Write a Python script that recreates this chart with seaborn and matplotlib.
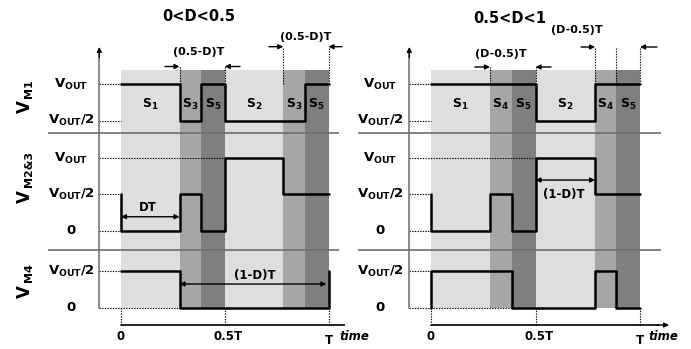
import numpy as np
import matplotlib
matplotlib.use('Agg')
import matplotlib.pyplot as plt
import seaborn as sns
import pandas as pd

sns.set_theme(style='white')
plt.rcParams['font.family'] = ['DejaVu Sans']
plt.rcParams['font.weight'] = 'bold'
plt.rcParams['text.color'] = 'black'
plt.rcParams['mathtext.fontset'] = 'dejavusans'
plt.rcParams['mathtext.default'] = 'bf'

# ---------------- data ----------------
titles = ['0<D<0.5', '0.5<D<1']

# switching-state boundaries (fraction of T) and the state in each interval
left_edges = [0, 0.282, 0.386, 0.5, 0.782, 0.885, 1.0]
left_states = ['S1', 'S3', 'S5', 'S2', 'S3', 'S5']
right_edges = [0, 0.282, 0.386, 0.5, 0.785, 0.885, 1.0]
right_states = ['S1', 'S4', 'S5', 'S2', 'S4', 'S5']

# waveforms as steps (time in T, level in Vout)
left_m1_t = [0, 0.282, 0.386, 0.5, 0.885, 1.0]
left_m1_v = [1, 0.5, 1, 0.5, 1, 1]
left_m23_t = [0, 0, 0.282, 0.386, 0.5, 0.782, 1.0]
left_m23_v = [0.5, 0, 0.5, 0, 1, 0.5, 0.5]
left_m4_t = [0, 0.282, 1.0, 1.0]
left_m4_v = [0.5, 0, 0, 0.5]

right_m1_t = [0, 0.5, 0.785, 1.0]
right_m1_v = [1, 0.5, 1, 1]
right_m23_t = [0, 0, 0.282, 0.386, 0.5, 0.785, 1.0]
right_m23_v = [0.5, 0, 0.5, 0, 1, 0.5, 0.5]
right_m4_t = [0, 0, 0.386, 0.785, 0.885, 1.0]
right_m4_v = [0, 0.5, 0, 0.5, 0, 0]

row_subs = ['M1', 'M2&3', 'M4']
row_levels = [[1, 0.5], [1, 0.5, 0], [0.5, 0]]
level_text = {1: '$V_{OUT}$', 0.5: '$V_{OUT}/2$', 0: '0'}
time_ticks = [0, 0.5, 1.0]
time_labels = ['0', '0.5T', 'T']

# where the dotted level guides stop (per row, per level)
left_guide_end = [[0, 0], [0.5, 0, 0], [0, 0.282]]
right_guide_end = [[0, 0], [0.5, 0, 0], [0, 0.386]]

# ---------------- layout ----------------
row_base = [2.08, 1.063, 0.0]
shade_top = 3.279
sep_y = [2.414, 0.796]
time_y = -0.239
state_colors = {'S1': '#dedede', 'S2': '#dedede', 'S3': '#a6a6a6',
                'S4': '#a6a6a6', 'S5': '#7f7f7f'}

fig = plt.figure(figsize=(6.91, 3.49), dpi=100)
ax_l = fig.add_axes([0, 0, 345 / 691, 1])
ax_r = fig.add_axes([345 / 691, 0, 346 / 691, 1])
ax_l.set_xlim(-0.5831, 1.0795)
ax_r.set_xlim(-0.4115, 1.244)

dot = (0, (1.2, 1.2))


def arrow(ax, x0, y0, x1, y1, style='-|>'):
    ax.annotate('', xy=(x1, y1), xytext=(x0, y0),
                arrowprops=dict(arrowstyle=style, color='black', lw=1.0,
                                mutation_scale=7, shrinkA=0, shrinkB=0))


def draw_panel(ax, edges, states, waves, guide_end, title, title_xy,
               yaxis_x, sep_x, level_x, time_end, time_label_x):
    ax.set_ylim(-0.569, 4.244)
    ax.axis('off')
    widths = np.diff(edges)
    ax.bar(edges[:-1], shade_top, width=widths, align='edge',
           color=[state_colors[s] for s in states], linewidth=0, zorder=1)
    for i, s in enumerate(states):
        ax.text(edges[i] + widths[i] / 2, row_base[0] + 0.728,
                '$%s_{%s}$' % (s[0], s[1]), ha='center', va='center',
                fontsize=9, zorder=5)
    ax.hlines(sep_y, sep_x[0], sep_x[1], color='#6e6e6e', lw=1.2, zorder=3)
    # vertical axis
    ax.plot([yaxis_x, yaxis_x], [0, 3.5], color='#777777', lw=1.2, zorder=3)
    arrow(ax, yaxis_x, 3.45, yaxis_x, 3.597)
    # time axis
    ax.plot([0, time_end - 0.05], [time_y, time_y], color='black', lw=1.2)
    arrow(ax, time_end - 0.06, time_y, time_end, time_y)
    ax.vlines(time_ticks, time_y, 0, color='black', lw=0.8, linestyles=dot)
    for tk, tl in zip(time_ticks, time_labels):
        yy = -0.445 if tl == 'T' else -0.39
        ax.text(tk + (0.015 if tl == '0.5T' else 0), yy, tl, ha='center',
                va='center', fontsize=8.5)
    ax.text(time_label_x, -0.39, 'time', ha='center', va='center',
            fontsize=8.5, style='italic')
    # levels and guides
    for r in range(3):
        for lv, xe in zip(row_levels[r], guide_end[r]):
            y = row_base[r] + lv
            ax.plot([yaxis_x, xe], [y, y], color='black', lw=0.8,
                    linestyle=dot, zorder=2)
            ax.text(level_x, y, level_text[lv], ha='center', va='center',
                    fontsize=9.5)
    # waveforms
    for r, (t, v) in enumerate(waves):
        df = pd.DataFrame({'t': t, 'v': np.array(v) + row_base[r]})
        sns.lineplot(data=df, x='t', y='v', ax=ax, sort=False, estimator=None,
                     drawstyle='steps-post', color='black', lw=1.8, zorder=4)
    ax.text(title_xy[0], title_xy[1], title, ha='center', va='center',
            fontsize=10.5)


draw_panel(ax_l, left_edges, left_states,
           [(left_m1_t, left_m1_v), (left_m23_t, left_m23_v), (left_m4_t, left_m4_v)],
           left_guide_end, titles[0], (0.376, 4.01), -0.1046, (-0.352, 1.051),
           -0.241, 1.142, 1.123)
draw_panel(ax_r, right_edges, right_states,
           [(right_m1_t, right_m1_v), (right_m23_t, right_m23_v), (right_m4_t, right_m4_v)],
           right_guide_end, titles[1], (0.378, 3.982), -0.1038, (-0.349, 1.100),
           -0.244, 1.139, 1.110)

# row labels (left panel only): big V with a rotated subscript above it
for r, yy in enumerate([2.68, 1.45, 0.14]):
    ax_l.text(-0.465, yy, 'V', rotation=90, ha='center', va='bottom',
              fontsize=12)
    ax_l.annotate(row_subs[r], xy=(-0.465, yy), xytext=(3, 11),
                  textcoords='offset points', rotation=90, ha='center',
                  va='bottom', fontsize=8)

# ---- dimension annotations, left panel ----
vtop = row_base[0] + 1
ax_l.text(0.376, 3.527, '(0.5-D)T', ha='center', va='center', fontsize=8)
arrow(ax_l, 0.212, 3.327, 0.282, 3.327)
arrow(ax_l, 0.5735, 3.327, 0.5, 3.327)
ax_l.vlines([0.282, 0.5], vtop, 3.327, color='black', lw=0.8, linestyles=dot)

ax_l.text(0.892, 3.734, '(0.5-D)T', ha='center', va='center', fontsize=8)
arrow(ax_l, 0.713, 3.6, 0.782, 3.6)
arrow(ax_l, 1.065, 3.6, 1.0, 3.6)
ax_l.vlines([0.782, 1.0], vtop, 3.6, color='black', lw=0.8, linestyles=dot)

arrow(ax_l, 0, 1.255, 0.282, 1.255, '<|-|>')
ax_l.text(0.13, 1.38, 'DT', ha='center', va='center', fontsize=8.5)
arrow(ax_l, 0.282, 0.327, 0.99, 0.327, '<|-|>')
ax_l.text(0.646, 0.44, '(1-D)T', ha='center', va='center', fontsize=8.5)

# ---- dimension annotations, right panel ----
ax_r.text(0.335, 3.5, '(D-0.5)T', ha='center', va='center', fontsize=8)
arrow(ax_r, 0.21, 3.32, 0.282, 3.32)
arrow(ax_r, 0.574, 3.32, 0.5, 3.32)
ax_r.vlines([0.282, 0.5], vtop, 3.32, color='black', lw=0.8, linestyles=dot)

ax_r.text(0.699, 3.83, '(D-0.5)T', ha='center', va='center', fontsize=8)
arrow(ax_r, 0.718, 3.596, 0.785, 3.596)
arrow(ax_r, 1.081, 3.596, 1.0, 3.596)
ax_r.vlines([0.785, 0.885, 1.0], vtop, 3.596, color='black', lw=0.8, linestyles=dot)

arrow(ax_r, 0.5, 1.761, 0.785, 1.761, '<|-|>')
ax_r.text(0.636, 1.568, '(1-D)T', ha='center', va='center', fontsize=8.5)

fig.savefig('out.png', dpi=100)
